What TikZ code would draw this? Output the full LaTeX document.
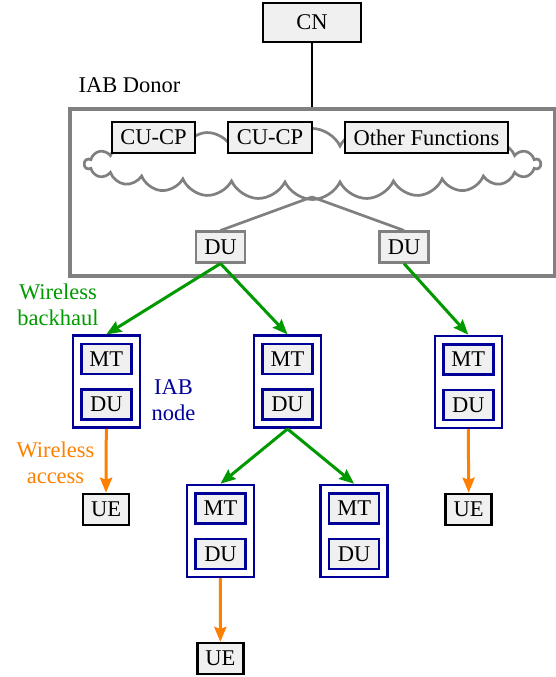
\documentclass[tikz,border=0pt]{standalone}
\usepackage{fontspec}
\setmainfont{Liberation Serif}
\newfontfamily\diagfont{Liberation Serif}
\usetikzlibrary{shapes.symbols,arrows.meta}
\definecolor{boxfill}{HTML}{F0F0F0}
\definecolor{dgreen}{HTML}{009900}
\definecolor{navyb}{HTML}{000099}
\definecolor{aorange}{HTML}{FF8000}
\definecolor{dgray}{HTML}{808080}
\newcommand\iabnode[3]{%
  \node[outerbox] (#1) at (#2,{677-#3}) {};
  \node[innerbox] (#1-mt) at ([yshift=22.7pt]#1.center) {MT};
  \node[innerbox] (#1-du) at ([yshift=-22.8pt]#1.center) {DU};
}
\begin{document}
\begin{tikzpicture}[x=1pt,y=1pt,
  font=\diagfont\fontsize{22.5}{26}\selectfont,
  blackbox/.style={draw=black,line width=2.5pt,fill=boxfill,inner sep=0pt,minimum height=31pt},
  graybox/.style={draw=dgray,line width=2.1pt,fill=boxfill,inner sep=0pt,minimum width=49pt,minimum height=31pt},
  outerbox/.style={draw=navyb,line width=2.5pt,fill=white,inner sep=0pt,minimum width=67pt,minimum height=92pt},
  innerbox/.style={draw=navyb,line width=2.5pt,fill=boxfill,inner sep=0pt,minimum width=50pt,minimum height=30pt},
  tipstyle/.style={-{Stealth[length=15pt,width=12pt,inset=2pt]}},
  backhaul/.style={draw=dgreen,line width=3pt,tipstyle},
  access/.style={draw=aorange,line width=3pt,tipstyle},
  grayline/.style={draw=dgray,line width=2.7pt},
  lbl/.style={align=center,inner sep=0pt}
]
\useasboundingbox (0,0) rectangle (556,677);

% core network
\node[blackbox,minimum width=98pt,minimum height=39pt] (cn) at (312,{677-22.5}) {CN};

% donor
\node[draw=dgray,line width=3.1pt,minimum width=485pt,minimum height=167pt,inner sep=0pt] (donor) at (312.5,{677-192.5}) {};
\node[lbl] (donorlbl) at (129.5,{677-85}) {IAB Donor};
\draw[line width=2.7pt] (cn.south) -- (cn.south |- donor.north);

\node[cloud,draw=dgray,line width=2.7pt,fill=white,cloud puffs=26,cloud puff arc=130,
      minimum width=456pt,minimum height=71pt,inner sep=0pt] (cloud) at (312.5,{677-164}) {};
\node[blackbox,minimum width=83pt] (cucp1) at (153.5,{677-137.5}) {CU-CP};
\node[blackbox,minimum width=84pt] (cucp2) at (270,{677-137.5}) {CU-CP};
\node[blackbox,minimum width=163pt] (other) at (426.5,{677-137.5}) {Other Functions};

\node[graybox] (ddu1) at (220.5,{677-247}) {DU};
\node[graybox] (ddu2) at (404,{677-247}) {DU};
\coordinate (join) at (312,{677-197});
\draw[grayline] (ddu1.north) -- (join);
\draw[grayline] (ddu2.north) -- (join);

% IAB nodes
\iabnode{n1}{106.3}{381.7}
\iabnode{n2}{287.5}{381.7}
\iabnode{n3}{468.3}{382}
\iabnode{n4}{220.5}{531}
\iabnode{n5}{354.2}{531}

% UEs
\node[blackbox,minimum width=46pt] (ue1) at (106,{677-509.5}) {UE};
\node[blackbox,minimum width=46pt] (ue3) at (468.7,{677-509.5}) {UE};
\node[blackbox,minimum width=46pt] (ue4) at (220.3,{677-658.7}) {UE};

% connectors
\draw[backhaul] (ddu1.south) -- (n1.north);
\draw[backhaul] (ddu1.south) -- (n2.north);
\draw[backhaul] (ddu2.south) -- (n3.north);
\draw[backhaul] (n2.south) -- (n4.north);
\draw[backhaul] (n2.south) -- (n5.north);
\draw[access] (n1.south) -- (ue1.north);
\draw[access] (n3.south) -- (ue3.north);
\draw[access] (n4.south) -- (ue4.north);

% labels
\node[lbl,text=dgreen] (bhlbl) at (58,{677-305}) {Wireless\\backhaul};
\node[lbl,text=navyb] (iablbl) at (173.5,{677-400.5}) {IAB\\node};
\node[lbl,text=aorange] (aclbl) at (55.5,{677-462.5}) {Wireless\\access};
\end{tikzpicture}
\end{document}
